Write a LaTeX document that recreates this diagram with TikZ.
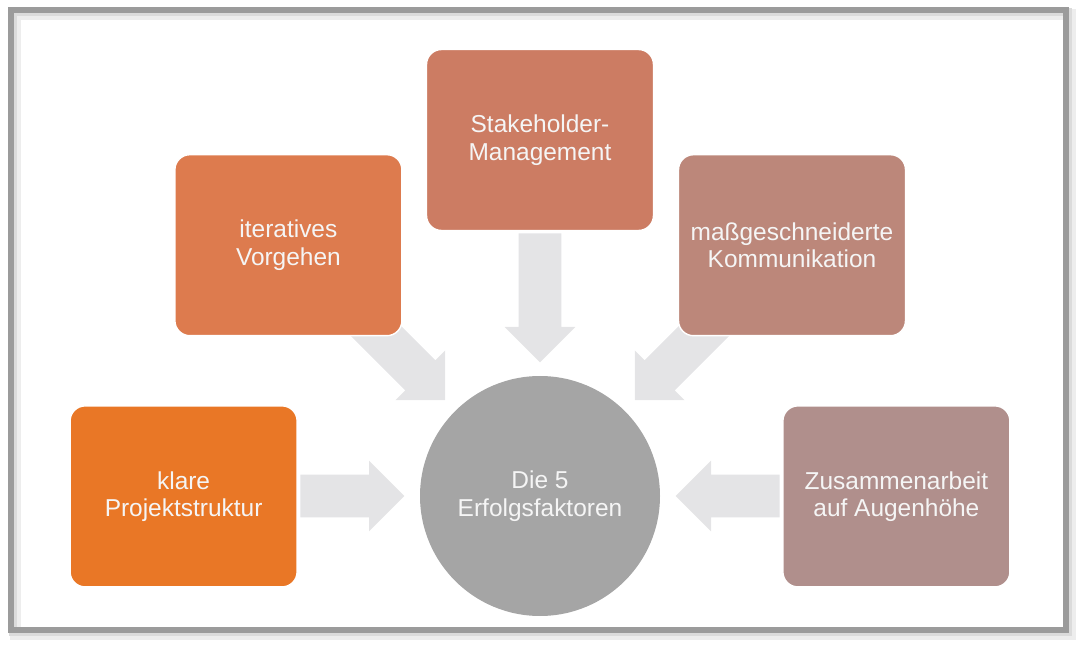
\documentclass[tikz,border=0pt]{standalone}
\usepackage{fontspec}
\setmainfont{Liberation Sans}
\usepackage{tikz}
\usepackage{xcolor}
\usetikzlibrary{shapes.arrows}

\definecolor{fkOrange}{RGB}{233,119,38}
\definecolor{fkIter}{RGB}{221,123,78}
\definecolor{fkStake}{RGB}{204,124,99}
\definecolor{fkKomm}{RGB}{188,135,122}
\definecolor{fkZus}{RGB}{176,143,140}
\definecolor{fkCore}{RGB}{165,165,165}
\definecolor{fkArrow}{RGB}{228,228,230}
\definecolor{fkFrame}{RGB}{155,155,155}

\begin{document}
\begin{tikzpicture}[
  factor/.style={rounded corners=0.375cm,draw=white,line width=1pt,
    minimum width=5.675cm,minimum height=4.525cm,text=white!96!black,
    align=center,font=\fontsize{17.4}{19.5}\selectfont},
  bigarrow/.style={single arrow,fill=fkArrow,inner xsep=0pt,inner ysep=0.525cm,
    minimum width=0pt,single arrow head extend=0.35cm,
    single arrow tip angle=90,anchor=tail}
]
\useasboundingbox (0,0) rectangle (26.975,-16.2);
% frame with soft shadow
\draw[line width=0.28cm,black!7] (0.38,-0.36) rectangle (26.76,-15.86);
\draw[line width=0.2cm,black!14] (0.33,-0.31) rectangle (26.71,-15.81);
\draw[line width=0.15cm,fkFrame] (0.275,-0.25) rectangle (26.65,-15.75);

% arrows behind the boxes
\node[bigarrow,minimum height=2.6cm] (arrL) at (7.5,-12.4) {};
\node[bigarrow,minimum height=2.6cm,rotate=180] (arrR) at (19.5,-12.4) {};
\node[bigarrow,minimum height=3.225cm,rotate=-90] (arrT) at (13.5,-5.825) {};
\node[bigarrow,minimum height=2.83cm,rotate=-45] (arrTL) at (9.125,-8.0) {};
\node[bigarrow,minimum height=2.83cm,rotate=-135] (arrTR) at (17.875,-8.0) {};

\node[factor,fill=fkOrange] (klare) at (4.59,-12.41) {klare\\Projektstruktur};
\node[factor,fill=fkIter] (iter) at (7.21,-6.13) {iteratives\\Vorgehen};
\node[factor,fill=fkStake] (stake) at (13.5,-3.5) {Stakeholder-\\Management};
\node[factor,fill=fkKomm] (komm) at (19.8,-6.13) {maßgeschneiderte\\Kommunikation};
\node[factor,fill=fkZus] (zus) at (22.41,-12.41) {Zusammenarbeit\\auf Augenhöhe};

\node[circle,fill=fkCore,minimum size=6cm,text=white!96!black,align=center,
  font=\fontsize{17.4}{19.5}\selectfont] (core) at (13.5,-12.4) {Die 5\\Erfolgsfaktoren};
\end{tikzpicture}
\end{document}
